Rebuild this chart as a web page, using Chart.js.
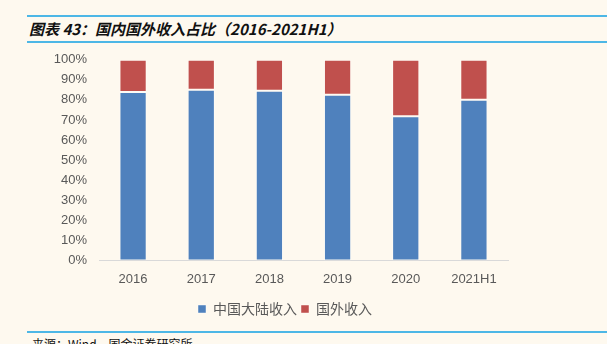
<!DOCTYPE html>
<html>
<head>
<meta charset="utf-8">
<script src="https://cdn.jsdelivr.net/npm/chart.js@4/dist/chart.umd.min.js"></script>
<style>
    body { margin:0; background:#FEF9EF; width:607px; height:344px; overflow:hidden; position:relative; font-family:"Noto Sans CJK SC", sans-serif; }
    .rule { position:absolute; left:27px; right:0; height:2px; background:#4DB7E6; }
    #title { position:absolute; left:29px; top:19px; font-size:15px; font-style:italic; font-weight:bold; color:#111; line-height:20px; }
    #source { position:absolute; left:32px; top:337px; font-size:12px; color:#111; line-height:14px; }
    #chart_holder { position:absolute; left:0; top:40px; width:607px; height:286px; }
</style>
</head>
<body>
<div class="rule" style="top:15px"></div>
<div id="title">图表 43：国内国外收入占比（2016-2021H1）</div>
<div class="rule" style="top:41px"></div>
<div id="chart_holder"><canvas id="the_chart"></canvas></div>
<div class="rule" style="top:331px"></div>
<div id="source">来源：Wind，国金证券研究所</div>
<script>
// categories and shares (%)
var categories = ["2016", "2017", "2018", "2019", "2020", "2021H1"];
var mainland_share = [83.9, 85.1, 84.6, 82.6, 71.8, 80.1];
var overseas_share = [16.1, 14.9, 15.4, 17.4, 28.2, 19.9];
var series_names = ["中国大陆收入", "国外收入"];
var series_colors = ["#4F81BD", "#C0504D"];
var y_ticks = [0, 10, 20, 30, 40, 50, 60, 70, 80, 90, 100];

var tick_font = { family: "'Liberation Sans', Arial, sans-serif", size: 13 };

// nudge the legend to the right, it sits off-centre in the original
var legend_shift = {
    id: "legend_shift",
    afterLayout: function(chart){
        chart.legend.left += 31;
        chart.legend.right += 31;
    }
};

var the_chart_object = new Chart(document.getElementById("the_chart").getContext("2d"), {
    type: "bar",
    data: {
        labels: categories,
        datasets: [
            { label: series_names[0], data: mainland_share, backgroundColor: series_colors[0], borderColor: "rgba(255,255,255,0.45)", borderWidth: 1, borderSkipped: false },
            { label: series_names[1], data: overseas_share, backgroundColor: series_colors[1], borderColor: "rgba(255,255,255,0.45)", borderWidth: 1, borderSkipped: false }
        ]
    },
    options: {
        responsive: true,
        maintainAspectRatio: false,
        animation: false,
        layout: { padding: { left: 0, right: 99, top: 12, bottom: 0 } },
        datasets: { bar: { categoryPercentage: 1, barPercentage: 0.4 } },
        scales: {
            x: {
                stacked: true,
                grid: { display: false, drawTicks: false },
                border: { color: "#D9D9D9", width: 1 },
                ticks: { color: "#595959", font: tick_font, padding: 11 }
            },
            y: {
                stacked: true,
                min: 0, max: 100,
                afterFit: function(axis){ axis.width = 99; },
                afterBuildTicks: function(axis){ axis.ticks = y_ticks.map(function(v){ return { value: v }; }); },
                grid: { display: false, drawTicks: false },
                border: { display: false },
                ticks: { color: "#595959", font: tick_font, padding: 12, autoSkip: false, callback: function(v){ return v + "%"; } }
            }
        },
        plugins: {
            tooltip: { enabled: false },
            legend: {
                position: "bottom",
                labels: {
                    color: "#595959",
                    font: { family: "'Noto Sans CJK SC', sans-serif", size: 14 },
                    boxWidth: 8, boxHeight: 8, padding: 4
                }
            }
        }
    },
    plugins: [legend_shift]
});
</script>
</body>
</html>
